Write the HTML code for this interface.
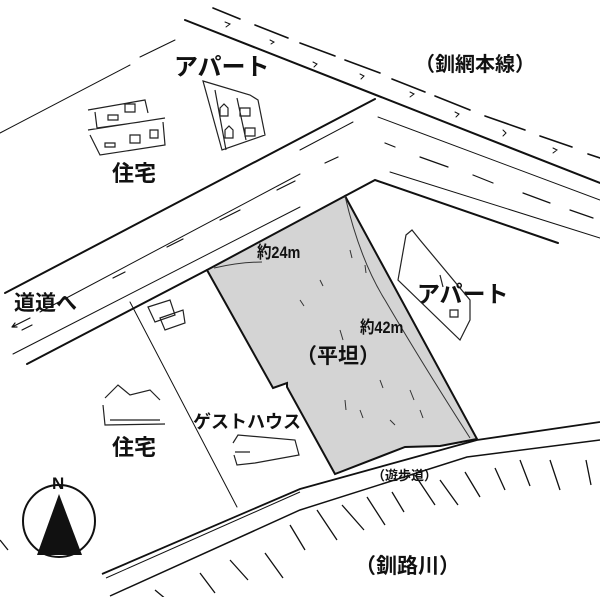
<!DOCTYPE html>
<html><head><meta charset="utf-8"><style>
html,body{margin:0;padding:0;background:#fff}
svg{display:block}
text{font-family:"Liberation Sans","Noto Sans CJK JP",sans-serif;font-weight:bold;fill:#111}
</style></head><body>
<svg width="600" height="597" viewBox="0 0 600 597" xmlns="http://www.w3.org/2000/svg">
<g fill="none" stroke="#111" stroke-linecap="round">
<path d="M0 133 L130 65 M140 57 L175 40" stroke-width="1"/>
<path d="M185 20 L600 183" stroke-width="2"/>
<path d="M213 8 L240 19 M255 25 L288 38 M300 43 L335 56 M345 60 L380 73 M392 79 L425 92 M435 96 L470 110 M485 116 L525 130 M540 136 L572 147 M588 154 L600 158" stroke-width="1.6"/>
<path d="M225 22 l5 2 -4 3 M270 40 l4 2 -3 2 M313 62 l4 2 -3 3 M360 74 l4 2 -3 3 M410 92 l4 2 -4 3 M455 112 l4 2 -3 3 M503 130 l3 3 -3 3 M553 148 l4 2 -4 3" stroke-width="1"/>
<path d="M5 293 L375 99" stroke-width="2"/>
<path d="M40 312 L300 174 M300 150 L353 122" stroke-width="1"/>
<path d="M113 278 L125 272 M167 247 L183 239 M220 220 L240 210 M277 190 L295 181 M325 163 L338 157 M385 143 L395 147 M420 157 L448 167 M473 175 L493 183 M523 193 L550 203 M570 210 L593 218" stroke-width="1.2"/>
<path d="M13 354 L300 207" stroke-width="1"/>
<path d="M27 364 L207 270 M345 196 L375 180 L558 243" stroke-width="2"/>
<path d="M378 117 L600 200 M390 172 L600 238" stroke-width="1"/>
<path d="M12 327 L30 318 M12 327 l5 0 M12 327 l3 -4 M22 330 L32 325" stroke-width="1.2"/>
<path d="M130 302 L237 507" stroke-width="1"/>
</g>
<path d="M207 270 L345 196 L477 439 L440 446 L405 447 L335 474 L287 387 L287 383 L273 388 Z" fill="#d4d4d4" stroke="#111" stroke-width="2"/>
<g fill="none" stroke="#333" stroke-width="1">
<path d="M345 196 Q360 260 385 300 Q420 360 470 438"/>
<path d="M214 268 Q240 262 262 262"/>
<path d="M350 250 l2 8 M365 265 l1 8 M340 330 l3 10 M380 380 l3 8 M410 390 l4 10 M360 410 l3 8 M345 400 l1 10 M390 420 l5 5 M420 410 l3 8 M300 300 l4 6 M320 280 l3 6"/>
</g>
<g fill="none" stroke="#111">
<path d="M102 574 L300 489 L477 440 L600 422" stroke-width="1.8"/>
<path d="M106 578 L300 492" stroke-width="1"/>
<path d="M110 596 L300 510 L467 457 L600 440" stroke-width="1.5"/>
<path d="M155 590 l12 10 M200 573 l15 20 M230 560 l18 20 M265 553 l18 25 M290 525 l15 25 M317 510 l20 30 M342 505 l22 25 M367 497 l18 28 M392 492 l12 20 M415 475 l20 30 M440 480 l18 25 M465 472 l15 25 M495 468 l10 22 M520 460 l10 26 M550 460 l10 30 M586 460 l5 25 M0 540 l8 10" stroke-width="1.3"/>
</g>
<g fill="none" stroke="#222" stroke-width="1.2">
<path d="M88 110 L145 100 L148 113 M95 112 L97 128 L140 122 M88 130 L165 118 M90 135 L100 155 L165 145 L163 122 M125 104 h10 v8 h-10z M108 115 h10 v5 h-10z M105 143 h10 v4 h-10z M130 135 h10 v8 h-10z M150 130 h8 v8 h-8z"/>
<path d="M203 81 L250 95 L258 100 L265 135 L222 150 Z M215 90 L226 150 M237 98 L246 140 M220 108 l4 -4 4 4 v8 h-8z M240 108 h10 v8 h-10z M225 130 l4 -4 4 4 v8 h-8z M245 128 h10 v8 h-10z"/>
<path d="M105 398 L118 385 L130 395 L150 390 L160 400 M103 405 L105 425 L165 424 M110 420 L160 420"/>
<path d="M148 307 L170 300 L175 315 L155 322 Z M160 318 L183 310 L185 323 L165 330 Z"/>
<path d="M233 443 L238 435 L295 440 L299 455 L255 463 L237 465 L234 455 M235 452 L250 452"/>
<path d="M406 235 L412 230 L420 240 L470 300 L470 320 L460 340 L398 280 Z M440 275 l3 12 M450 310 h8 v7 h-8z"/>
</g>
<circle cx="59" cy="521" r="36" fill="none" stroke="#111" stroke-width="2"/>
<path d="M59 494 L37 555 L82 555 Z" fill="#111"/>
<text x="52" y="489" font-size="17">N</text>
<text x="174" y="75" font-size="24">アパート</text>
<text x="415" y="71" font-size="20">（釧網本線）</text>
<text x="112" y="181" font-size="22">住宅</text>
<text x="14" y="310" font-size="21">道道へ</text>
<text x="257" y="258" font-size="17" transform="translate(257 0) scale(0.85 1) translate(-257 0)">約24m</text>
<text x="417" y="302" font-size="23">アパート</text>
<text x="360" y="333" font-size="17" transform="translate(360 0) scale(0.85 1) translate(-360 0)">約42m</text>
<text x="296" y="363" font-size="21">（平坦）</text>
<text x="112" y="455" font-size="22">住宅</text>
<text x="193" y="428" font-size="18">ゲストハウス</text>
<text x="372" y="480" font-size="13">（遊歩道）</text>
<text x="355" y="573" font-size="21">（釧路川）</text>
</svg>
</body></html>
